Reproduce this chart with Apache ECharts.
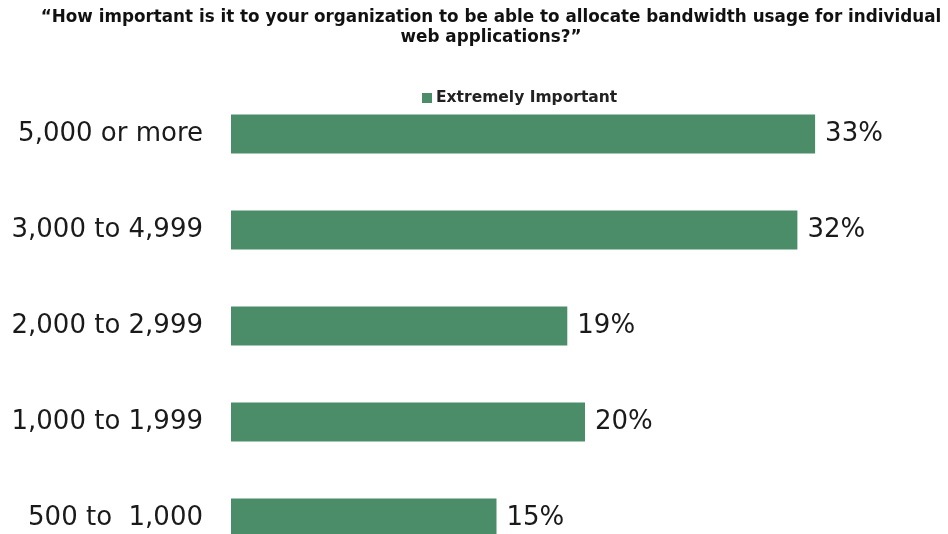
<!DOCTYPE html>
<html>
<head>
<meta charset="utf-8">
<script src="https://cdn.jsdelivr.net/npm/echarts@6/dist/echarts.min.js"></script>
<style>
  html, body { margin: 0; padding: 0; background: #fff; width: 948px; height: 534px; overflow: hidden; }
  /* The plot runs past the bottom edge, so the last bar is cut off by the window */
  #chart { width: 948px; height: 566px; }
</style>
</head>
<body>
<div id="chart"></div>
<script>
// Company size buckets, listed bottom to top as the category axis draws them
const categories = ['500 to  1,000', '1,000 to 1,999', '2,000 to 2,999', '3,000 to 4,999', '5,000 or more'];
// Share answering "Extremely Important", in percent
const extremelyImportant = [15, 20, 19, 32, 33];
const seriesName = 'Extremely Important';
const titleText = '\u201cHow important is it to your organization to be able to allocate bandwidth usage for individual\nweb applications?\u201d';

const FONT = 'DejaVu Sans, Liberation Sans, Arial, sans-serif';

const chart = echarts.init(document.getElementById('chart'));
chart.setOption({
  animation: false,
  backgroundColor: '#ffffff',
  title: {
    text: titleText,
    left: 486,
    top: 3,
    textAlign: 'center',
    textStyle: {
      fontFamily: FONT,
      fontWeight: 'bold',
      fontSize: 16.8,
      lineHeight: 19.5,
      color: '#111111'
    }
  },
  legend: {
    data: [seriesName],
    left: 422,
    top: 90,
    padding: 0,
    icon: 'rect',
    itemWidth: 10,
    itemHeight: 10,
    itemGap: 4,
    textStyle: {
      fontFamily: FONT,
      fontWeight: 'bold',
      fontSize: 15.5,
      padding: [0, 0, 0, -1],
      color: '#222222'
    }
  },
  grid: {
    left: 231,
    top: 86,
    width: 708,
    height: 480,
    containLabel: false
  },
  xAxis: {
    type: 'value',
    min: 0,
    max: 40,
    show: false
  },
  yAxis: {
    type: 'category',
    data: categories,
    axisLine: { show: false },
    axisTick: { show: false },
    axisLabel: {
      margin: 28,
      fontFamily: FONT,
      fontSize: 26,
      color: '#1a1a1a'
    }
  },
  series: [{
    name: seriesName,
    type: 'bar',
    data: extremelyImportant,
    barWidth: 39,
    itemStyle: { color: '#4b8c69' },
    label: {
      show: true,
      position: 'right',
      distance: 10,
      formatter: '{c}%',
      fontFamily: FONT,
      fontSize: 26,
      color: '#1a1a1a'
    }
  }]
});
</script>
</body>
</html>
